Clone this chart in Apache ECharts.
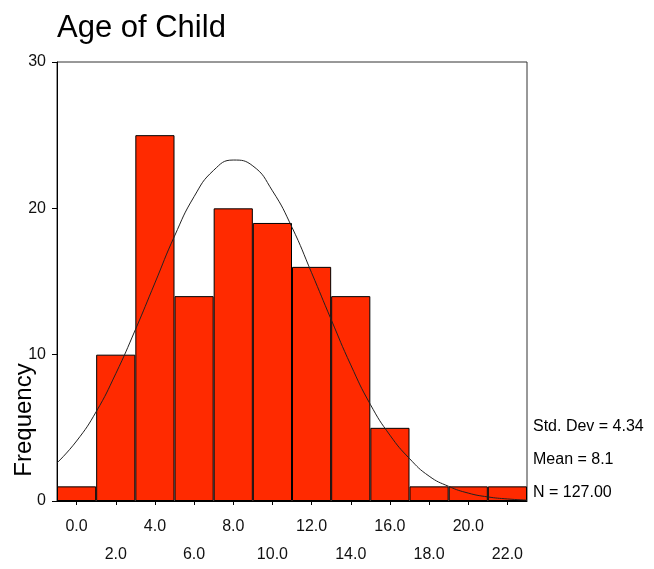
<!DOCTYPE html>
<html>
<head>
<meta charset="utf-8">
<script src="https://cdn.jsdelivr.net/npm/echarts@6/dist/echarts.min.js"></script>
<style>
html,body{margin:0;padding:0;background:#fff;}
#c{width:654px;height:569px;}
</style>
</head>
<body>
<div id="c"></div>
<script>
// Histogram bins (age of child), centered at these values, bin width 2
var categories = ['0.0','2.0','4.0','6.0','8.0','10.0','12.0','14.0','16.0','18.0','20.0','22.0'];
var frequencies = [1, 10, 25, 14, 20, 19, 16, 14, 5, 1, 1, 1];
// Normal curve
var curveX = [-1, 0, 1, 2, 3, 4, 5, 6, 7, 8, 9, 10, 11, 12, 13, 14, 15, 16, 17, 18, 19, 20, 21, 22, 23];
var curveY = [2.6, 4.1, 6.1, 8.7, 11.7, 14.9, 18.1, 20.8, 22.6, 23.3, 22.9, 21.2, 18.7, 15.6, 12.4, 9.3, 6.6, 4.5, 2.9, 1.7, 1.0, 0.54, 0.28, 0.14, 0.06];
var yTicks = [0, 10, 20, 30];
var statsLines = ['Std. Dev = 4.34', 'Mean = 8.1', 'N = 127.00'];

var FONT = '"Liberation Sans", Arial, sans-serif';
var chart = echarts.init(document.getElementById('c'), null, {renderer: 'canvas'});

var curveData = curveX.map(function (x, i) { return [x, curveY[i]]; });

var graphics = [
  {
    type: 'text', left: 57, top: 13,
    style: {text: 'Age of Child', font: '31px ' + FONT, fill: '#000'}
  },
  {
    type: 'text', x: 24, y: 420, rotation: Math.PI / 2,
    style: {text: 'Frequency', font: '24px ' + FONT, fill: '#000', align: 'center', verticalAlign: 'middle'}
  }
];
var statsY = [427, 460, 493];
statsLines.forEach(function (t, i) {
  graphics.push({
    type: 'text', x: 533, y: statsY[i],
    style: {text: t, font: '16px ' + FONT, fill: '#000', verticalAlign: 'middle'}
  });
});

chart.setOption({
  animation: false,
  backgroundColor: '#fff',
  textStyle: {fontFamily: FONT},
  grid: {left: 57, right: 127, top: 62, bottom: 67, show: true, borderColor: '#333', borderWidth: 1, backgroundColor: 'transparent'},
  graphic: graphics,
  xAxis: [
    {
      type: 'category',
      data: categories,
      boundaryGap: true,
      axisLine: {show: true, onZero: false, lineStyle: {color: '#000', width: 1}},
      axisTick: {show: true, alignWithLabel: true, length: 4, lineStyle: {color: '#000'}},
      axisLabel: {
        interval: 0, hideOverlap: false, margin: 12,
        fontSize: 16, color: '#111', fontFamily: FONT, lineHeight: 28,
        formatter: function (v, idx) { return idx % 2 === 0 ? v : '\n' + v; }
      },
      splitLine: {show: false}
    },
    {
      type: 'value', min: -1, max: 23, show: false
    }
  ],
  yAxis: {
    type: 'value', min: 0, max: 30, interval: 10,
    axisLine: {show: true, onZero: false, lineStyle: {color: '#000', width: 1}},
    axisTick: {show: true, length: 5, lineStyle: {color: '#000'}},
    axisLabel: {
      fontSize: 16, color: '#111', fontFamily: FONT, margin: 11,
      formatter: function (v) { return yTicks.indexOf(v) >= 0 ? String(v) : ''; }
    },
    splitLine: {show: false}
  },
  series: [
    {
      type: 'bar',
      xAxisIndex: 0,
      data: frequencies,
      barCategoryGap: '0%',
      itemStyle: {color: '#ff2a00', borderColor: '#000', borderWidth: 1}
    },
    {
      type: 'line',
      xAxisIndex: 1,
      data: curveData,
      smooth: true,
      symbol: 'none',
      lineStyle: {color: '#222', width: 1},
      z: 5
    }
  ]
});
</script>
</body>
</html>
